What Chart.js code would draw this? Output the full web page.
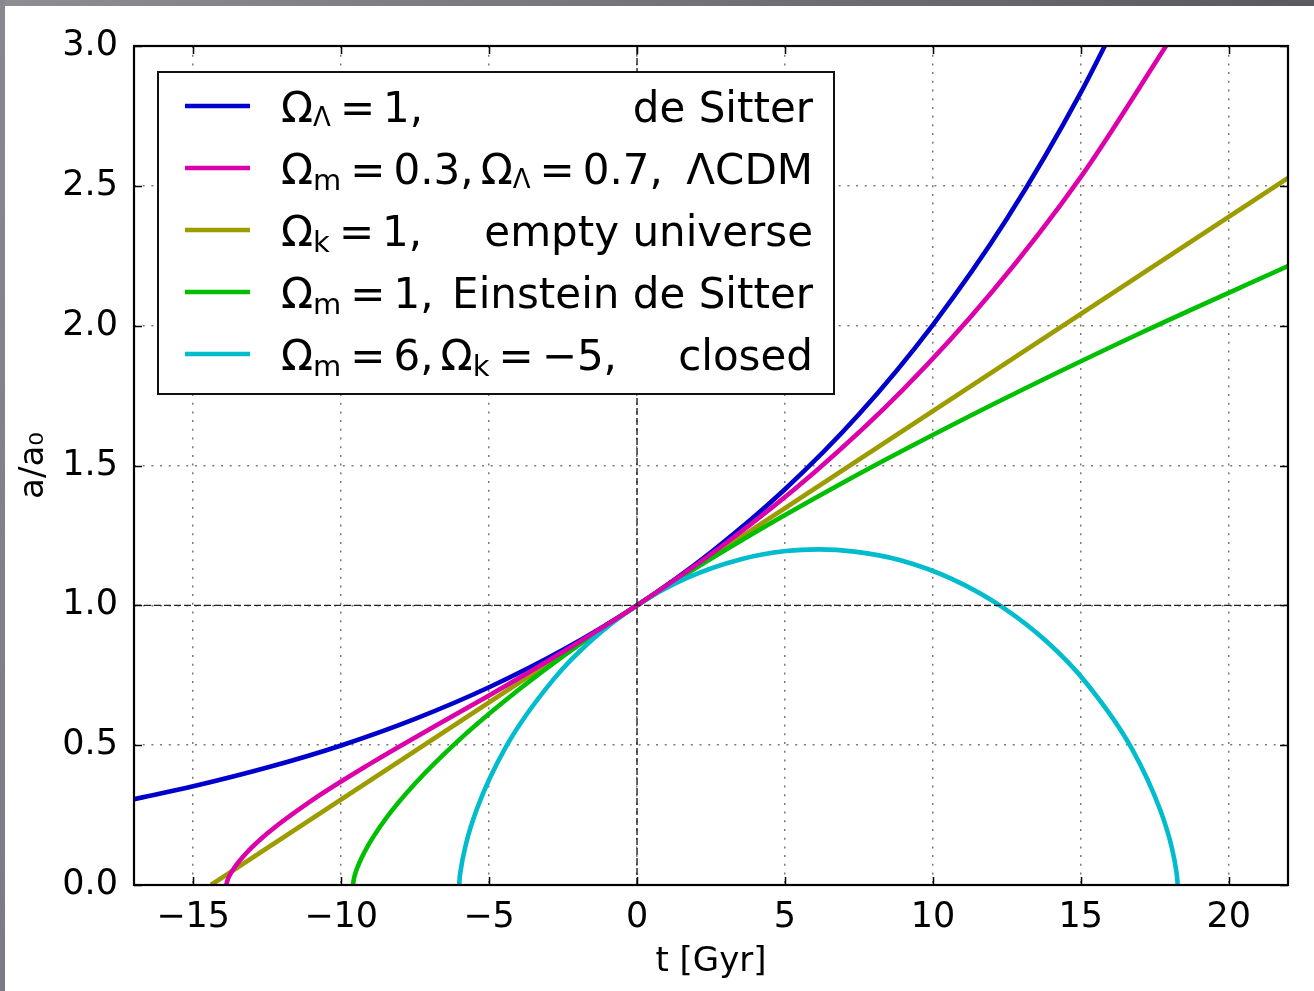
<!DOCTYPE html>
<html><head><meta charset="utf-8">
<script src="https://cdn.jsdelivr.net/npm/chart.js@4.4.1/dist/chart.umd.min.js"></script>
<style>
html,body{margin:0;padding:0;background:#fff;overflow:hidden;}
#wrap{position:relative;width:1314px;height:991px;}
canvas{position:absolute;left:0;top:0;}
#bandTop{position:absolute;left:0;top:0;width:1314px;height:6px;background:linear-gradient(to right,#8f8d93,#5b5860);}
#bandLeft{position:absolute;left:0;top:0;width:5px;height:991px;background:linear-gradient(to bottom,#8a888e,#7c7a82);}
</style></head>
<body><div id="wrap"><canvas id="c" width="1314" height="991" style="width:1314px;height:991px"></canvas><div id="bandTop"></div><div id="bandLeft"></div></div>
<script>
// ---- data ----
const xTicks = [-15, -10, -5, 0, 5, 10, 15, 20];
const yTicks = [0, 0.5, 1, 1.5, 2, 2.5, 3];

const deSitterT = [-17, -15, -12.5, -10, -7.5, -5, -2.5, 0, 2.5, 5, 7.5, 10, 12.5, 15, 17];
const deSitterA = [0.307, 0.353, 0.420, 0.499, 0.594, 0.707, 0.841, 1.0, 1.190, 1.415, 1.683, 2.003, 2.382, 2.834, 3.256];

const lcdmT = [-13.88, -13.85, -13.7, -13.3, -12.5, -11, -9, -7, -5, -3, 0, 3, 6, 9, 12, 15, 18];
const lcdmA = [0, 0.014, 0.047, 0.103, 0.184, 0.302, 0.435, 0.558, 0.678, 0.802, 1.0, 1.222, 1.476, 1.772, 2.121, 2.532, 3.020];

const emptyT = [-14.4, 22];
const emptyA = [0, 2.528];

const edsT = [-9.6, -9.58, -9.5, -9.2, -8.5, -7.5, -6, -4, -2, 0, 3, 7, 12, 17, 22];
const edsA = [0, 0.016, 0.048, 0.120, 0.236, 0.363, 0.520, 0.698, 0.856, 1.0, 1.199, 1.441, 1.717, 1.973, 2.213];

const closedT = [-6.009, -6.004, -5.968, -5.794, -5.396, -4.407, -2.817, -1.517, 0, 1.689, 3.516, 5.038, 6.130, 7.352, 8.870, 10.690, 12.371, 13.871, 15.156, 16.721, 17.686, 18.069, 18.233, 18.265, 18.269];
const closedA = [0, 0.012, 0.047, 0.141, 0.276, 0.498, 0.736, 0.877, 1.0, 1.098, 1.165, 1.194, 1.2, 1.192, 1.162, 1.092, 0.992, 0.868, 0.726, 0.488, 0.267, 0.135, 0.044, 0.010, 0];

const refVerticalT = [0, 0];
const refVerticalA = [0, 3];
const refHorizontalT = [-17, 22];
const refHorizontalA = [1, 1];

const seriesColors = ['#0000cc', '#dd00aa', '#9c9c00', '#00bf00', '#00bccc'];
// legend math pieces: [text, kind]  kind 0 = normal, 1 = subscript, 'g' = gap (px)
const legendMath = [
  [['Ω',0],['Λ',1],[9,'g'],['=',0],[8,'g'],['1,',0]],
  [['Ω',0],['m',1],[9,'g'],['=',0],[8,'g'],['0.3,',0],[7,'g'],['Ω',0],['Λ',1],[9,'g'],['=',0],[8,'g'],['0.7,',0]],
  [['Ω',0],['k',1],[9,'g'],['=',0],[8,'g'],['1,',0]],
  [['Ω',0],['m',1],[9,'g'],['=',0],[8,'g'],['1,',0]],
  [['Ω',0],['m',1],[9,'g'],['=',0],[8,'g'],['6,',0],[7,'g'],['Ω',0],['k',1],[9,'g'],['=',0],[8,'g'],['\u22125,',0]]
];
const legendNames = ['de Sitter', 'ΛCDM', 'empty universe', 'Einstein de Sitter', 'closed'];

// ---- build datasets ----
const pts = (T, A) => T.map((t, i) => ({x: t, y: A[i]}));
const curves = [
  {data: pts(deSitterT, deSitterA), color: seriesColors[0], order: 4},
  {data: pts(lcdmT, lcdmA), color: seriesColors[1], order: 1},
  {data: pts(emptyT, emptyA), color: seriesColors[2], order: 5},
  {data: pts(edsT, edsA), color: seriesColors[3], order: 3},
  {data: pts(closedT, closedA), color: seriesColors[4], order: 2}
];
const datasets = curves.map(c => ({
  data: c.data, borderColor: c.color, backgroundColor: c.color, borderWidth: 4.6,
  showLine: true, pointRadius: 0, fill: false, cubicInterpolationMode: 'monotone',
  order: c.order, clip: 0
}));
datasets.push({data: pts(refVerticalT, refVerticalA), borderColor: '#222', borderWidth: 1.4, borderDash: [7, 3], showLine: true, pointRadius: 0, tension: 0, order: 0, clip: 0});
datasets.push({data: pts(refHorizontalT, refHorizontalA), borderColor: '#222', borderWidth: 1.4, borderDash: [7, 3], showLine: true, pointRadius: 0, tension: 0, order: 0, clip: 0});

Chart.defaults.font.family = '"DejaVu Sans", "Liberation Sans", sans-serif';
Chart.defaults.color = '#000';

const frameAndTicks = {
  id: 'frameAndTicks',
  afterDatasetsDraw(chart) {
    const {ctx, chartArea: a, scales: {x, y}} = chart;
    ctx.save();
    ctx.strokeStyle = '#000';
    ctx.lineWidth = 1.5;
    const L = 8;
    ctx.beginPath();
    xTicks.forEach(v => {
      const px = Math.round(x.getPixelForValue(v)) + 0.5;
      ctx.moveTo(px, a.bottom); ctx.lineTo(px, a.bottom - L);
      ctx.moveTo(px, a.top); ctx.lineTo(px, a.top + L);
    });
    yTicks.forEach(v => {
      const py = Math.round(y.getPixelForValue(v)) + 0.5;
      ctx.moveTo(a.left, py); ctx.lineTo(a.left + L, py);
      ctx.moveTo(a.right, py); ctx.lineTo(a.right - L, py);
    });
    ctx.stroke();
    ctx.lineWidth = 2.2;
    ctx.strokeRect(a.left, a.top, a.right - a.left, a.bottom - a.top);
    ctx.restore();
  }
};

const mathLegend = {
  id: 'mathLegend',
  afterDraw(chart) {
    const ctx = chart.ctx;
    const box = {l: 158, t: 72, r: 834, b: 394};
    ctx.save();
    ctx.fillStyle = '#fff';
    ctx.fillRect(box.l, box.t, box.r - box.l, box.b - box.t);
    ctx.strokeStyle = '#111';
    ctx.lineWidth = 2;
    ctx.strokeRect(box.l, box.t, box.r - box.l, box.b - box.t);
    const rowY0 = 106, rowStep = 62;
    const fam = '"DejaVu Sans", sans-serif';
    legendNames.forEach((name, i) => {
      const cy = rowY0 + i * rowStep;
      ctx.strokeStyle = seriesColors[i];
      ctx.lineWidth = 4.6;
      ctx.beginPath(); ctx.moveTo(185, cy); ctx.lineTo(250, cy); ctx.stroke();
      const base = cy + 15.5;
      ctx.fillStyle = '#000';
      ctx.textBaseline = 'alphabetic';
      ctx.textAlign = 'left';
      let xx = 281;
      legendMath[i].forEach(([txt, kind]) => {
        if (kind === 'g') { xx += txt; return; }
        const sub = kind === 1;
        const isLam = txt === 'Λ' && sub;
        ctx.font = (sub ? (isLam ? '26px ' : '29px ') : '42px ') + fam;
        ctx.fillText(txt, xx, sub ? base + (isLam ? 4 : 6) : base);
        xx += ctx.measureText(txt).width;
      });
      ctx.font = '42px ' + fam;
      ctx.textAlign = 'right';
      ctx.fillText(name, 813, base);
    });
    ctx.restore();
  }
};

const fmtX = v => (v < 0 ? '\u2212' + Math.abs(v) : String(v));

new Chart(document.getElementById('c'), {
  type: 'scatter',
  data: {datasets},
  options: {
    responsive: false, animation: false, devicePixelRatio: 1,
    layout: {padding: {top: 46, right: 26, left: 0, bottom: 0}},
    plugins: {legend: {display: false}, tooltip: {enabled: false}},
    scales: {
      x: {
        type: 'linear', min: -17, max: 22,
        afterBuildTicks: s => { s.ticks = xTicks.map(v => ({value: v})); },
        afterFit: s => { s.height = 106; s.paddingLeft = 0; s.paddingRight = 0; },
        ticks: {font: {size: 35}, color: '#000', padding: 12, maxRotation: 0, autoSkip: false, callback: v => fmtX(v)},
        grid: {color: '#7a7a7a', lineWidth: 1.5, drawTicks: false},
        border: {display: false, dash: [2, 6.7]},
        title: {display: true, text: 't [Gyr]', font: {size: 34}, color: '#000', padding: {top: 0, bottom: 8}}
      },
      y: {
        type: 'linear', min: 0, max: 3,
        afterBuildTicks: s => { s.ticks = yTicks.map(v => ({value: v})); },
        afterFit: s => { s.width = 134; s.paddingTop = 0; s.paddingBottom = 0; },
        ticks: {font: {size: 35}, color: '#000', padding: 16, autoSkip: false, callback: v => Number(v).toFixed(1)},
        grid: {color: '#7a7a7a', lineWidth: 1.5, drawTicks: false},
        border: {display: false, dash: [2, 6.7]},
        title: {display: true, text: 'a/a₀', font: {size: 34}, color: '#000', padding: {top: 14, bottom: 0}}
      }
    }
  },
  plugins: [frameAndTicks, mathLegend]
});
</script>
</body></html>
